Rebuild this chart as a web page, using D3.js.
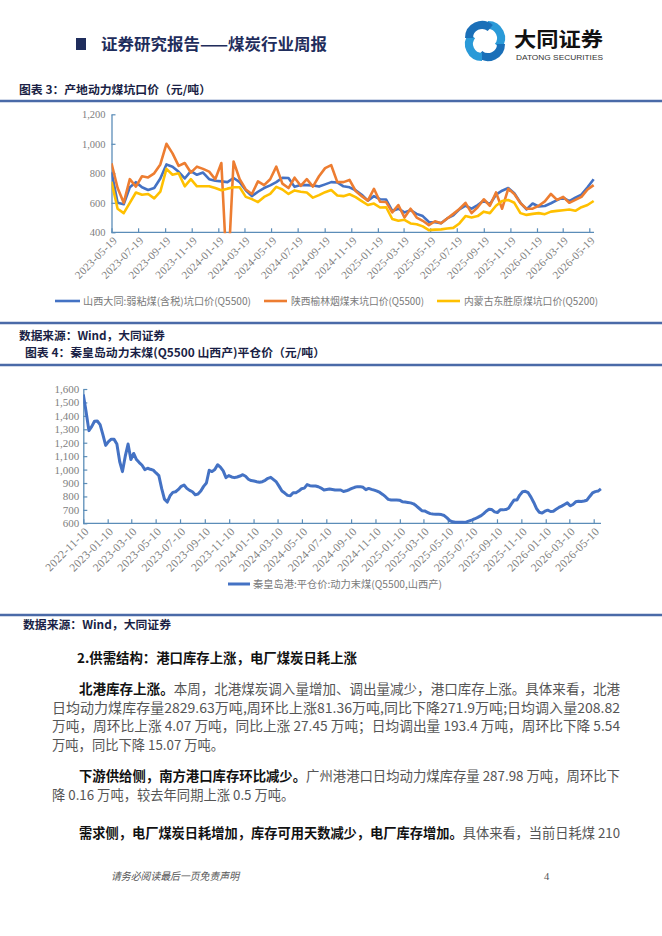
<!DOCTYPE html>
<html><head><meta charset="utf-8">
<script src="https://cdn.jsdelivr.net/npm/d3@7"></script>
<style>
html,body{margin:0;padding:0;background:#fff;}
svg{display:block;}
</style></head><body>
<svg id="page" width="662" height="936"></svg>
<script>
// ---------------- DATA ----------------
// Chart 3: pit-mouth prices, bi-weekly samples starting 2023-05-19
const chart1Start = "2023-05-19";
const chart1StepDays = 14;
const datongPrice = [810,600,590,705,740,705,687,700,765,860, 845,810,765,815,790,805,760,750,745,740,
  768,740,685,645,675,700,718,740,770,768, 708,720,720,718,710,725,740,738,712,705,
  685,655,615,645,624,622,545,560,535,550, 525,510,470,468,462,494,515,555,580,560,
  585,615,590,655,682,700,665,600,555,595, 575,578,597,618,635,612,635,655,705,760];
const yulinPrice = [868,700,600,760,710,780,772,800,860,1000, 935,850,870,805,845,830,811,760,870,50,
  880,760,690,660,745,720,760,845,730,700, 770,715,760,710,780,835,855,740,740,755,
  680,645,615,695,607,605,535,585,500,560, 500,478,449,475,462,494,525,558,600,530,
  570,624,580,670,560,695,660,598,560,560, 580,610,660,620,640,600,620,640,690,720];
const dongshengPrice = [743,560,530,600,670,655,660,630,675,830, 790,800,712,760,712,712,712,700,685,696,
  705,705,640,625,605,640,660,708,690,660, 684,675,670,635,652,672,687,650,645,658,
  638,612,585,595,568,570,490,478,485,460, 455,440,415,418,420,426,430,460,510,500,
  510,540,530,580,612,619,600,530,518,525, 530,523,540,545,550,555,546,570,585,612];
const chart1Series = ["山西大同:弱粘煤(含税)坑口价(Q5500)", "陕西榆林烟煤末坑口价(Q5500)", "内蒙古东胜原煤坑口价(Q5200)"];
const chart1TickLabels = ["2023-05-19","2023-07-19","2023-09-19","2023-11-19","2024-01-19","2024-03-19","2024-05-19",
  "2024-07-19","2024-09-19","2024-11-19","2025-01-19","2025-03-19","2025-05-19","2025-07-19","2025-09-19",
  "2025-11-19","2026-01-19","2026-03-19","2026-05-19"];
const chart1YTicks = [400, 600, 800, 1000, 1200];

// Chart 4: Qinhuangdao FOB price, weekly samples starting 2022-11-10
const chart2Start = "2022-11-10";
const chart2StepDays = 7;
const qhdPrice = [1560,1430,1290,1320,1360,1362,1335,1260,1180,1208,
  1226,1225,1190,1060,985,1100,1190,1075,1120,1075,
  1052,1032,1000,1010,1002,996,975,955,860,780,
  758,805,830,835,852,875,885,860,845,835,
  812,818,840,875,900,995,985,1000,1036,1018,
  990,940,955,945,940,945,952,962,950,928,
  918,915,910,906,910,920,935,942,925,908,
  875,840,825,808,805,828,828,840,857,862,
  888,880,878,878,872,862,848,852,856,852,
  848,848,848,837,842,850,860,868,873,873,
  868,850,860,853,847,840,830,815,798,778,
  774,774,774,772,761,758,755,752,745,730,
  712,694,692,682,672,669,668,667,665,658,
  640,620,611,608,607,607,607,610,618,625,
  634,644,655,670,690,704,702,685,680,700,
  700,702,712,745,774,774,810,835,838,828,
  795,755,710,682,676,690,698,688,690,705,
  718,728,740,752,730,740,760,764,762,766,
  772,800,826,836,840,856];
const chart2Series = ["秦皇岛港:平仓价:动力末煤(Q5500,山西产)"];
const chart2TickLabels = ["2022-11-10","2023-01-10","2023-03-10","2023-05-10","2023-07-10","2023-09-10","2023-11-10",
  "2024-01-10","2024-03-10","2024-05-10","2024-07-10","2024-09-10","2024-11-10","2025-01-10","2025-03-10",
  "2025-05-10","2025-07-10","2025-09-10","2025-11-10","2026-01-10","2026-03-10","2026-05-10"];
const chart2YTicks = [600,700,800,900,1000,1100,1200,1300,1400,1500,1600];

// ---------------- DRAW ----------------
const svg = d3.select("#page");
const CJK = "'Noto Sans CJK SC','Noto Sans',sans-serif";
const SERIF = "'Liberation Serif','DejaVu Serif',serif";
const parse = d3.timeParse("%Y-%m-%d");
const fmtDate = d3.timeFormat("%Y-%m-%d");
const NAVY = "#1f2d5c";
const RULE = "#4a6aa8";
const AXIS = "#5b8db8";
const TICKTXT = "#808080";
const COLORS = ["#4472C4", "#ED7D31", "#FFC000"];

// header
svg.append("rect").attr("x", 76).attr("y", 38).attr("width", 10).attr("height", 12).attr("fill", NAVY);
svg.append("text").attr("x", 101).attr("y", 50).attr("font-family", CJK).attr("font-weight", 700)
  .attr("font-size", 15.5).attr("fill", NAVY).attr("textLength", 226).attr("lengthAdjust", "spacingAndGlyphs")
  .text("证券研究报告——煤炭行业周报");
// logo icon
const logo = svg.append("g").attr("transform", "translate(485,41)");
[0, 90, 180, 270].forEach((a, i) => {
  const arc = d3.arc().innerRadius(9).outerRadius(17).startAngle(0).endAngle(Math.PI * 0.72);
  logo.append("path").attr("d", arc()).attr("fill", i % 2 ? "#1a6fb8" : "#2a9ad8")
    .attr("transform", `rotate(${a}) translate(3,-3)`);
});
logo.append("rect").attr("x", -4).attr("y", -4).attr("width", 8).attr("height", 8)
  .attr("fill", "#fff").attr("transform", "rotate(45)");
svg.append("text").attr("x", 514).attr("y", 47).attr("font-family", CJK).attr("font-weight", 700)
  .attr("font-size", 20).attr("fill", "#111").attr("textLength", 89).attr("lengthAdjust", "spacingAndGlyphs")
  .text("大同证券");
svg.append("text").attr("x", 516).attr("y", 60).attr("font-family", "'Liberation Sans',sans-serif")
  .attr("font-size", 7).attr("fill", "#333").attr("textLength", 87).attr("lengthAdjust", "spacingAndGlyphs")
  .text("DATONG SECURITIES");

function titleText(x, y, str, len, size) {
  svg.append("text").attr("x", x).attr("y", y).attr("font-family", CJK).attr("font-weight", 700)
    .attr("font-size", size || 11.5).attr("fill", "#1a1f45").attr("textLength", len)
    .attr("lengthAdjust", "spacingAndGlyphs").text(str);
}
function rule(y) {
  svg.append("line").attr("x1", 0).attr("x2", 662).attr("y1", y).attr("y2", y)
    .attr("stroke", RULE).attr("stroke-width", 2.5);
}

titleText(19, 94, "图表 3：产地动力煤坑口价（元/吨）", 192);
rule(101);
rule(323);
titleText(19, 339.5, "数据来源：Wind，大同证券", 146);
titleText(25, 357, "图表 4：秦皇岛动力末煤(Q5500 山西产)平仓价（元/吨）", 300);
rule(365);
rule(615);
titleText(23, 629, "数据来源：Wind，大同证券", 148);

// generic chart
function drawChart(cfg) {
  const g = svg.append("g");
  const x = d3.scaleTime().domain([parse(cfg.tickLabels[0]), parse(cfg.tickLabels[cfg.tickLabels.length - 1])])
    .range([cfg.x0, cfg.x1]);
  const y = d3.scaleLinear().domain([cfg.yTicks[0], cfg.yTicks[cfg.yTicks.length - 1]]).range([cfg.yBottom, cfg.yTop]);
  const clipId = "clip" + cfg.id;
  svg.append("clipPath").attr("id", clipId).append("rect")
    .attr("x", cfg.x0).attr("y", cfg.yTop - 5).attr("width", 662 - cfg.x0).attr("height", cfg.yBottom - cfg.yTop + 6);

  // y axis
  const ya = g.append("g").attr("transform", `translate(${cfg.x0},0)`)
    .call(d3.axisLeft(y).tickValues(cfg.yTicks).tickSizeInner(-4).tickSizeOuter(0).tickPadding(cfg.yPad)
      .tickFormat(d3.format(",")));
  ya.attr("font-family", null);
  ya.select(".domain").attr("stroke", AXIS).attr("stroke-width", 1.3);
  ya.selectAll(".tick line").attr("stroke", AXIS).attr("stroke-width", 1.2);
  ya.selectAll("text").style("font-family", SERIF).attr("font-size", cfg.font).attr("fill", TICKTXT);

  // x axis
  const xa = g.append("g").attr("transform", `translate(0,${cfg.yBottom})`)
    .call(d3.axisBottom(x).tickValues(cfg.tickLabels.map(parse)).tickSizeInner(-4).tickSizeOuter(0)
      .tickFormat(fmtDate));
  xa.attr("font-family", null);
  xa.select(".domain").remove();
  xa.selectAll(".tick line").attr("stroke", AXIS).attr("stroke-width", 1.2);
  xa.selectAll("text").style("font-family", SERIF).attr("font-size", cfg.xfont).attr("fill", TICKTXT)
    .attr("text-anchor", "end").attr("y", 0).attr("dy", "0.35em").attr("letter-spacing", 0.3)
    .attr("transform", "translate(3,6) rotate(-45)");
  g.append("line").attr("x1", cfg.x0).attr("x2", cfg.axisEnd).attr("y1", cfg.yBottom).attr("y2", cfg.yBottom)
    .attr("stroke", AXIS).attr("stroke-width", 1.3);

  // lines
  const start = parse(cfg.start);
  const line = d3.line().x(d => x(d.date)).y(d => y(d.value)).curve(d3.curveLinear);
  cfg.series.forEach((vals, si) => {
    const data = vals.map((v, i) => ({ date: d3.timeDay.offset(start, i * cfg.step), value: v }));
    g.append("path").datum(data).attr("d", line).attr("fill", "none")
      .attr("stroke", COLORS[si]).attr("stroke-width", cfg.lineW).attr("stroke-linejoin", "round")
      .attr("clip-path", `url(#${clipId})`);
  });

  // legend
  cfg.legend.forEach((L, si) => {
    g.append("line").attr("x1", L.lx0).attr("x2", L.lx1).attr("y1", cfg.legendY).attr("y2", cfg.legendY)
      .attr("stroke", COLORS[si]).attr("stroke-width", cfg.lineW);
    g.append("text").attr("x", L.tx).attr("y", cfg.legendY).attr("dy", "0.36em")
      .attr("font-family", CJK).attr("font-size", 10).attr("fill", "#7a7a7a")
      .attr("textLength", L.tw).attr("lengthAdjust", "spacingAndGlyphs").text(cfg.names[si]);
  });
}

drawChart({
  id: 1, start: chart1Start, step: chart1StepDays, tickLabels: chart1TickLabels, yTicks: chart1YTicks,
  x0: 111.5, x1: 589.3, yTop: 114.3, yBottom: 232.3, axisEnd: 594, yPad: 6, font: 10.5, xfont: 11, lineW: 2.6,
  series: [datongPrice, yulinPrice, dongshengPrice], names: chart1Series, legendY: 301,
  legend: [{lx0: 55, lx1: 80, tx: 83, tw: 168}, {lx0: 264, lx1: 287, tx: 291, tw: 133}, {lx0: 437, lx1: 460, tx: 464, tw: 134}]
});
drawChart({
  id: 2, start: chart2Start, step: chart2StepDays, tickLabels: chart2TickLabels, yTicks: chart2YTicks,
  x0: 83.3, x1: 593.7, yTop: 389, yBottom: 523.3, axisEnd: 601, yPad: 4, font: 11, xfont: 11.5, lineW: 3,
  series: [qhdPrice], names: chart2Series, legendY: 584,
  legend: [{lx0: 228, lx1: 250, tx: 253, tw: 189}]
});

// body text
function para(x, y, parts, len) {
  const t = svg.append("text").attr("x", x).attr("y", y).attr("font-family", CJK).attr("font-size", 13.3);
  if (len) t.attr("textLength", len).attr("lengthAdjust", "spacingAndGlyphs");
  parts.forEach(p => t.append("tspan").attr("font-weight", p.b ? 700 : 400).attr("fill", p.b ? "#111" : "#555").text(p.t));
}
para(77, 663, [{b: 1, t: "2.供需结构：港口库存上涨，电厂煤炭日耗上涨"}], 280);
para(79, 694, [{b: 1, t: "北港库存上涨。"}, {t: "本周，北港煤炭调入量增加、调出量减少，港口库存上涨。具体来看，北港"}], 541);
para(52, 712.5, [{t: "日均动力煤库存量2829.63万吨,周环比上涨81.36万吨,同比下降271.9万吨;日均调入量208.82"}], 568);
para(52, 731, [{t: "万吨，周环比上涨 4.07 万吨，同比上涨 27.45 万吨；日均调出量 193.4 万吨，周环比下降 5.54"}], 568);
para(52, 749.5, [{t: "万吨，同比下降 15.07 万吨。"}]);
para(79, 781, [{b: 1, t: "下游供给侧，南方港口库存环比减少。"}, {t: "广州港港口日均动力煤库存量 287.98 万吨，周环比下"}], 541);
para(52, 799.5, [{t: "降 0.16 万吨，较去年同期上涨 0.5 万吨。"}]);
para(79, 838, [{b: 1, t: "需求侧，电厂煤炭日耗增加，库存可用天数减少，电厂库存增加。"}, {t: "具体来看，当前日耗煤 210"}], 541);

// footer
svg.append("text").attr("x", 111).attr("y", 880).attr("font-family", CJK).attr("font-size", 10.5)
  .attr("font-style", "italic").attr("fill", "#555").attr("textLength", 128).attr("lengthAdjust", "spacingAndGlyphs")
  .text("请务必阅读最后一页免责声明");
svg.append("text").attr("x", 544).attr("y", 880).attr("font-family", SERIF).attr("font-size", 10.5)
  .attr("fill", "#555").text("4");
</script>
</body></html>
